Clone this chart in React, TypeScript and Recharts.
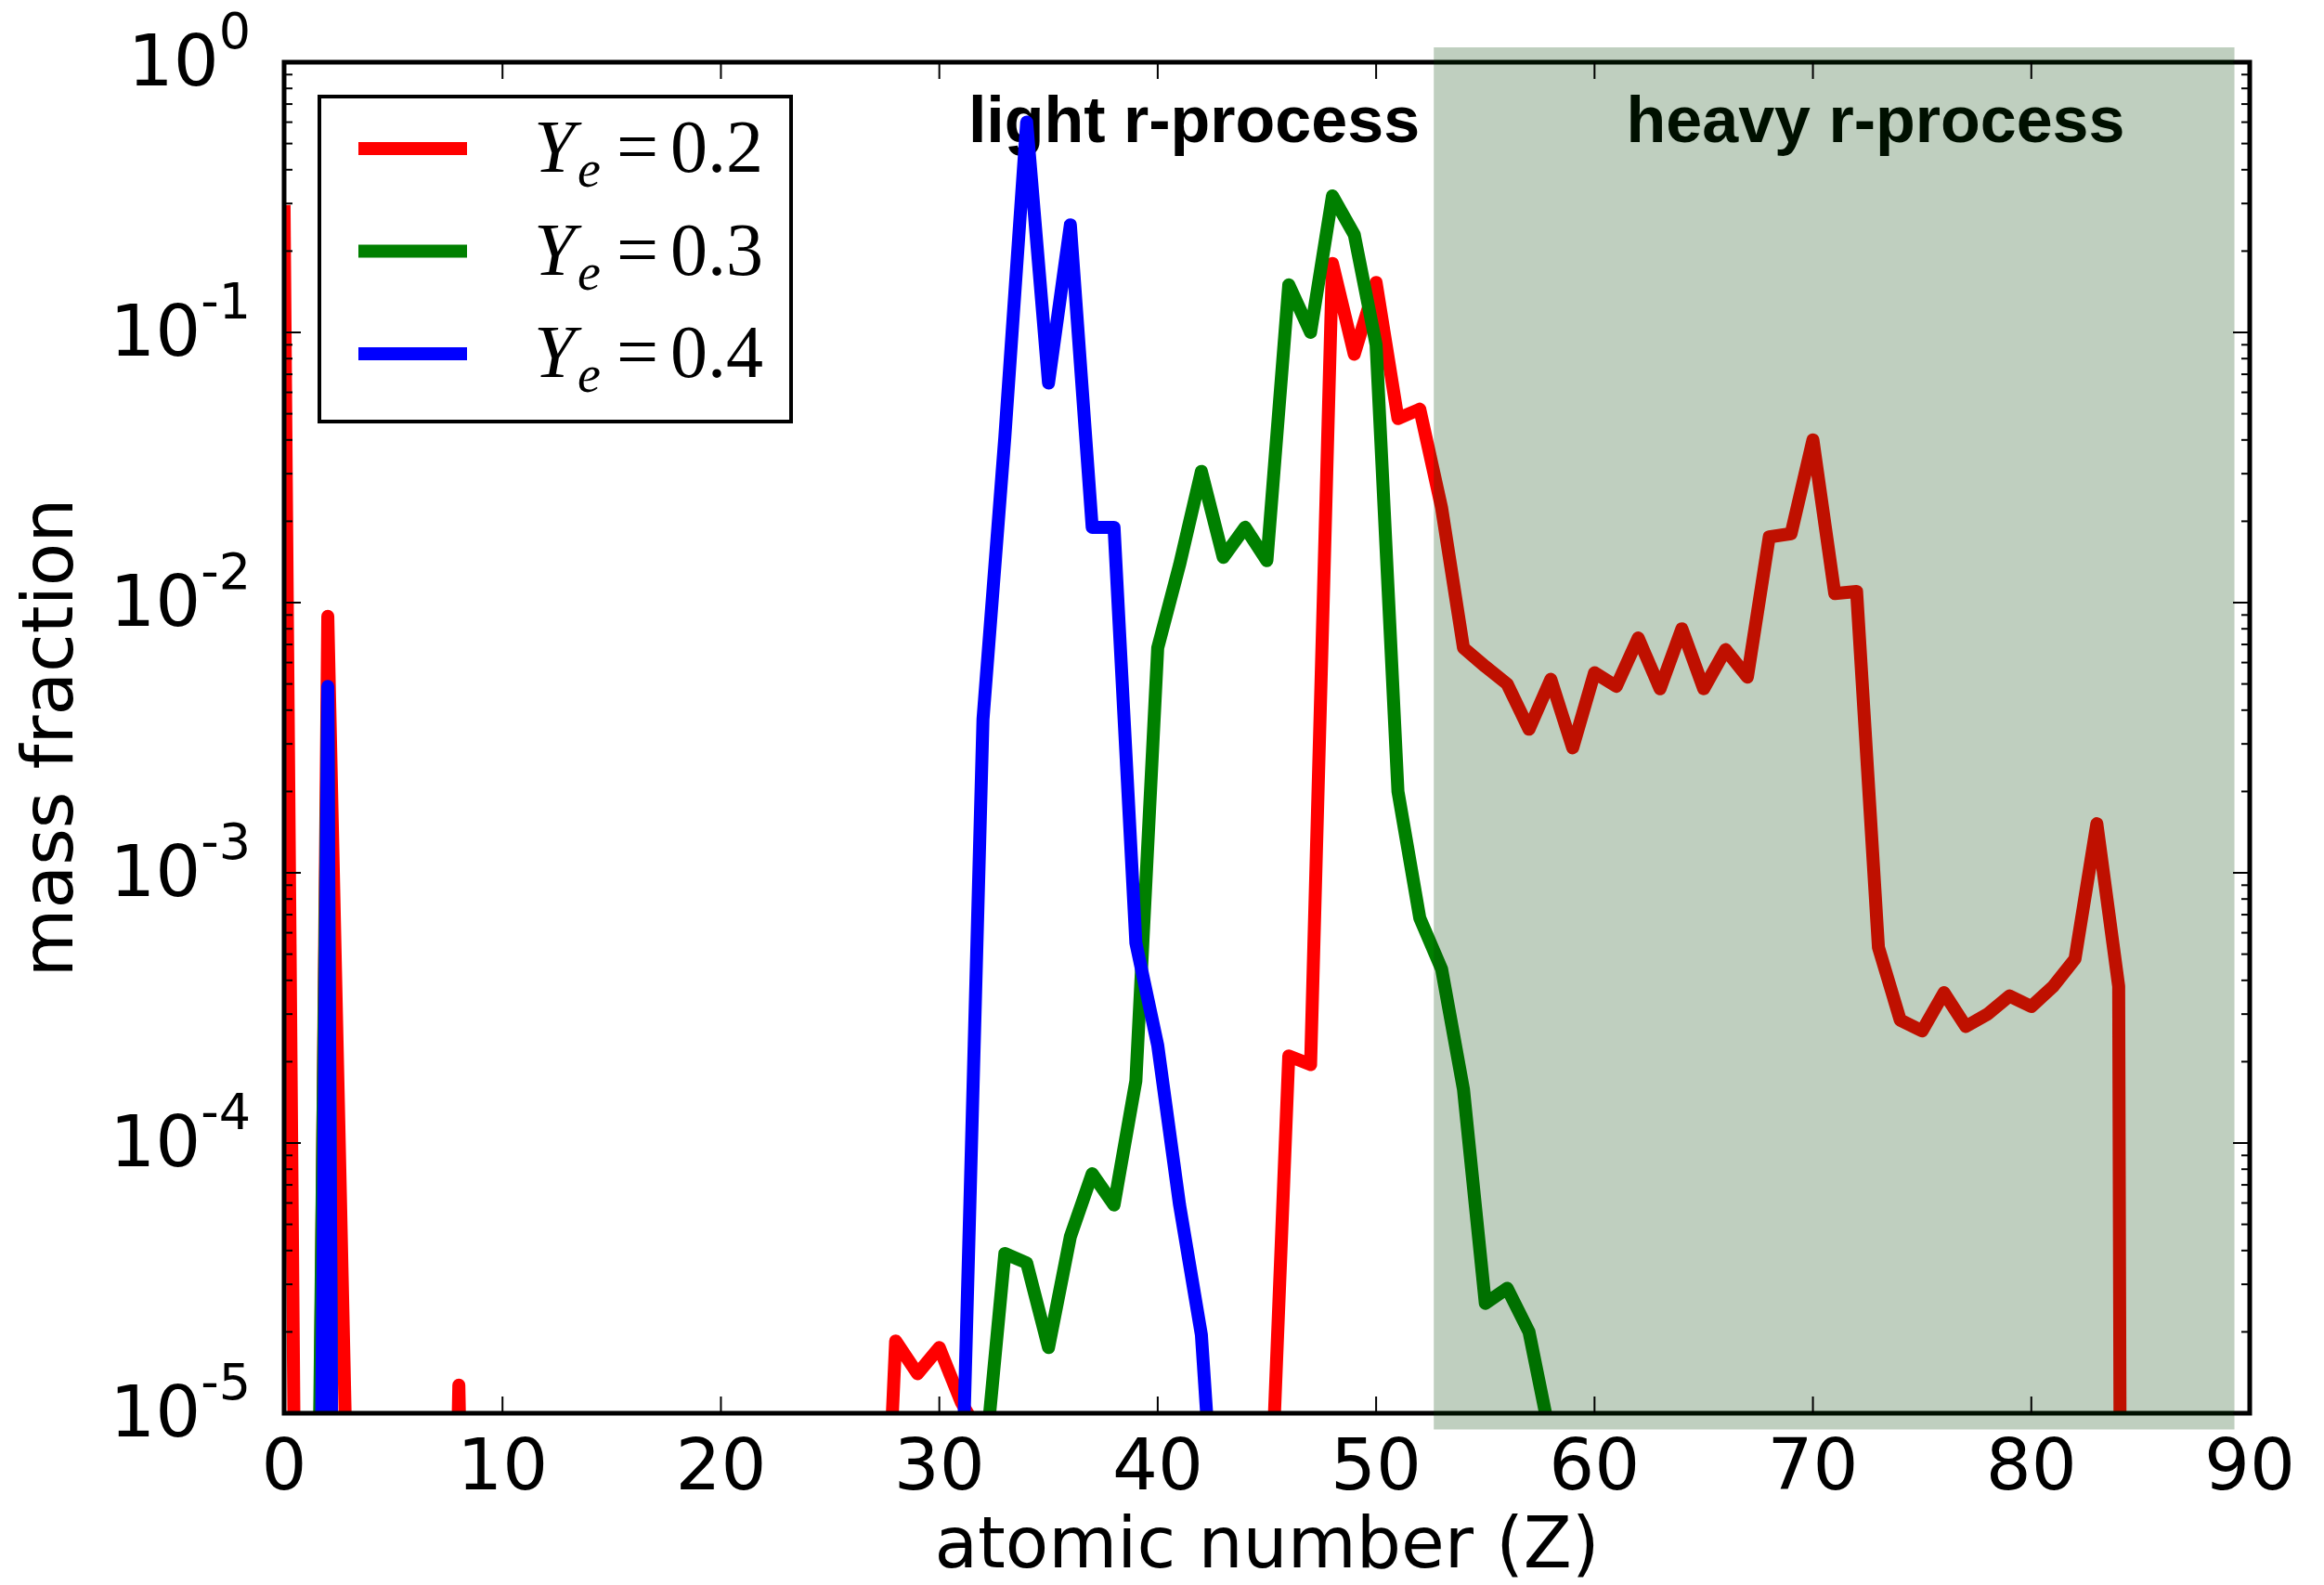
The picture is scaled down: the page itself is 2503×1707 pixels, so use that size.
import React from 'react';
import { LineChart, Line, XAxis, YAxis, ReferenceArea, Legend, Customized } from 'recharts';

// ---------- data ----------
const atomicNumbers: number[] = Array.from({ length: 87 }, (_, i) => i);

// Ye = 0.2 (null = far below the plotted range)
const massYe02: (number | null)[] = [
  0.28, 3e-11, 8.9e-3, 1.7e-6, null, null, null, 1e-9, 1.27e-5, 1e-9,
  null, null, null, null, null, null, null, null, null, null,
  null, null, null, null, null, null, null, 3e-7, 1.85e-5, 1.4e-5,
  1.75e-5, 1.1e-5, 8e-6, 1e-8, null, null, null, null, null, null,
  null, null, null, null, 1e-8, 2e-6, 2.1e-4, 1.95e-4, 0.18, 0.083,
  0.153, 0.048, 0.052, 0.0224, 0.0068, 0.0058, 0.005, 0.0034, 0.0052, 0.0029,
  0.0055, 0.0049, 0.0074, 0.0048, 0.008, 0.0048, 0.0067, 0.0053, 0.0175, 0.018,
  0.04, 0.0108, 0.011, 5.3e-4, 2.85e-4, 2.6e-4, 3.6e-4, 2.7e-4, 3.0e-4, 3.5e-4,
  3.2e-4, 3.8e-4, 4.8e-4, 1.52e-3, 3.8e-4, 1e-30, null,
];

// Ye = 0.3
const massYe03: (number | null)[] = [
  null, 3e-10, 4.6e-3, 1e-18, null, null, null, null, null, null,
  null, null, null, null, null, null, null, null, null, null,
  null, null, null, null, null, null, null, null, null, null,
  null, 1e-9, 5.5e-6, 3.9e-5, 3.6e-5, 1.75e-5, 4.5e-5, 7.7e-5, 5.9e-5, 1.7e-4,
  6.8e-3, 0.0138, 0.0306, 0.0147, 0.019, 0.0143, 0.15, 0.1, 0.32, 0.23,
  0.09, 2.0e-3, 6.8e-4, 4.4e-4, 1.58e-4, 2.55e-5, 2.9e-5, 2.0e-5, 8e-6, 1e-7,
  null, null, null, null, null, null, null, null, null, null,
  null, null, null, null, null, null, null, null, null, null,
  null, null, null, null, null, null, null,
];

// Ye = 0.4
const massYe04: (number | null)[] = [
  null, 1e-12, 4.9e-3, 1e-18, null, null, null, null, null, null,
  null, null, null, null, null, null, null, null, null, null,
  null, null, null, null, null, null, null, null, null, null,
  1e-9, 3.8e-6, 3.7e-3, 0.041, 0.6, 0.065, 0.25, 0.019, 0.019, 5.5e-4,
  2.3e-4, 5.9e-5, 1.95e-5, 1.2e-6, null, null, null, null, null, null,
  null, null, null, null, null, null, null, null, null, null,
  null, null, null, null, null, null, null, null, null, null,
  null, null, null, null, null, null, null, null, null, null,
  null, null, null, null, null, null, null,
];

const seriesKeys = ['ye02', 'ye03', 'ye04'];
const seriesNames = ['Y_e =0.2', 'Y_e =0.3', 'Y_e =0.4'];
const seriesColors = ['#ff0000', '#008000', '#0000ff'];

const xTicks = [0, 10, 20, 30, 40, 50, 60, 70, 80, 90];
const yDecades = [-5, -4, -3, -2, -1];
const yTicks: number[] = [];
yDecades.forEach((d) => {
  for (let m = 1; m <= 9; m++) yTicks.push(m * Math.pow(10, d));
});
yTicks.push(1);

const heavyBand = { zFrom: 52.64, zTo: 89.3, yFrom: 8.7e-6, yTo: 1.135 };
const annotations = [
  { text: 'light r-process', x: 1286 },
  { text: 'heavy r-process', x: 2020 },
];

const rows = atomicNumbers.map((z, i) => ({
  z,
  ye02: massYe02[i],
  ye03: massYe03[i],
  ye04: massYe04[i],
}));

// ---------- layout ----------
const W = 2503;
const H = 1707;
const MARGIN = { top: 67, right: 80, bottom: 85, left: 206 };
const Y_AXIS_W = 100;
const X_AXIS_H = 100;
const PL = MARGIN.left + Y_AXIS_W; // 306
const PR = W - MARGIN.right; // 2423
const PT = MARGIN.top; // 67
const PB = H - MARGIN.bottom - X_AXIS_H; // 1522

const SANS = "'DejaVu Sans', sans-serif";

const XTick = (props: any) => {
  const { payload } = props;
  const x = payload && payload.coordinate != null ? payload.coordinate : props.x;
  return (
    <g>
      <line x1={x} x2={x} y1={PB} y2={PB - 18} stroke="#000" strokeWidth={2} />
      <line x1={x} x2={x} y1={PT} y2={PT + 18} stroke="#000" strokeWidth={2} />
      <text x={x} y={1604} textAnchor="middle" fontFamily={SANS} fontSize={77} fill="#000">
        {String(payload.value)}
      </text>
    </g>
  );
};

const YTick = (props: any) => {
  const { payload } = props;
  const v = Number(payload.value);
  const y = payload && payload.coordinate != null ? payload.coordinate : props.y;
  const lg = Math.log10(v);
  const exp = Math.round(lg);
  const major = Math.abs(lg - exp) < 1e-6;
  const len = major ? 18 : 9;
  return (
    <g>
      <line x1={PL} x2={PL + len} y1={y} y2={y} stroke="#000" strokeWidth={2} />
      <line x1={PR} x2={PR - len} y1={y} y2={y} stroke="#000" strokeWidth={2} />
      {major && (
        <text x={270} y={y + 25} textAnchor="end" fontFamily={SANS} fontSize={77} fill="#000">
          10
          <tspan dy={-40} fontSize={54}>
            {exp === 0 ? '0' : '-' + String(-exp)}
          </tspan>
        </text>
      )}
    </g>
  );
};

const LegendBox = (props: any) => {
  const items: any[] = props.payload ?? [];
  return (
    <svg width={512} height={354} style={{ display: 'block' }}>
      <rect x={2} y={2} width={508} height={350} fill="#fff" stroke="#000" strokeWidth={4} />
      {items.map((it, i) => {
        const cy = 58 + i * 110.5;
        const parts = String(it.value).split('=');
        const rhs = parts[1] ?? '';
        return (
          <g key={i}>
            <line x1={51} x2={154} y1={cy} y2={cy} stroke={it.color} strokeWidth={14} strokeLinecap="square" />
            <text y={cy + 25} fontFamily="'Liberation Serif', serif" fontSize={80} fill="#000">
              <tspan x={233} fontStyle="italic">Y</tspan>
              <tspan x={280} dy={16} fontStyle="italic" fontSize={56}>e</tspan>
              <tspan x={322} dy={-16}>=</tspan>
              <tspan x={380}>{rhs}</tspan>
            </text>
          </g>
        );
      })}
    </svg>
  );
};

const Annotations = () => (
  <g>
    {annotations.map((a) => (
      <text
        key={a.text}
        x={a.x}
        y={153}
        textAnchor="middle"
        fontFamily="'Liberation Sans', Arial, sans-serif"
        fontWeight="bold"
        fontSize={70}
        fill="#000"
      >
        {a.text}
      </text>
    ))}
  </g>
);

export default function App() {
  return (
    <div style={{ position: 'absolute', left: 0, top: 0, width: W, height: H, background: '#fff' }}>
      <LineChart width={W} height={H} data={rows} margin={MARGIN}>
        <XAxis
          dataKey="z"
          type="number"
          domain={[0, 90]}
          allowDataOverflow
          ticks={xTicks}
          interval={0}
          height={X_AXIS_H}
          axisLine={false}
          tickLine={false}
          tick={(p: any) => <XTick {...p} />}
          label={{
            content: () => (
              <text x={(PL + PR) / 2} y={1688} textAnchor="middle" fontFamily={SANS} fontSize={76} fill="#000">
                atomic number (Z)
              </text>
            ),
          }}
        />
        <YAxis
          type="number"
          scale="log"
          domain={[1e-5, 1]}
          allowDataOverflow
          ticks={yTicks}
          interval={0}
          width={Y_AXIS_W}
          axisLine={false}
          tickLine={false}
          tick={(p: any) => <YTick {...p} />}
          label={{
            content: () => (
              <text
                x={78}
                y={(PT + PB) / 2}
                transform={`rotate(-90, 78, ${(PT + PB) / 2})`}
                textAnchor="middle"
                fontFamily={SANS}
                fontSize={76}
                fill="#000"
              >
                mass fraction
              </text>
            ),
          }}
        />
        {seriesKeys.map((k, i) => (
          <Line
            key={k}
            dataKey={k}
            name={seriesNames[i]}
            type="linear"
            stroke={seriesColors[i]}
            strokeWidth={14}
            strokeLinejoin="round"
            strokeLinecap="square"
            dot={false}
            activeDot={false}
            connectNulls={false}
            isAnimationActive={false}
          />
        ))}
        <ReferenceArea
          x1={0}
          x2={90}
          y1={1e-5}
          y2={1}
          fill="none"
          stroke="#000"
          strokeWidth={5}
          ifOverflow="visible"
          zIndex={900}
        />
        <ReferenceArea
          x1={heavyBand.zFrom}
          x2={heavyBand.zTo}
          y1={heavyBand.yFrom}
          y2={heavyBand.yTo}
          fill="rgb(0,64,0)"
          fillOpacity={0.25}
          stroke="none"
          ifOverflow="visible"
          zIndex={1000}
        />
        <Customized component={<Annotations />} />
        <Legend
          content={(p: any) => <LegendBox {...p} />}
          layout="vertical"
          align="center"
          verticalAlign="middle"
          wrapperStyle={{ left: 342, top: 102, width: 512, height: 354 }}
        />
      </LineChart>
    </div>
  );
}
